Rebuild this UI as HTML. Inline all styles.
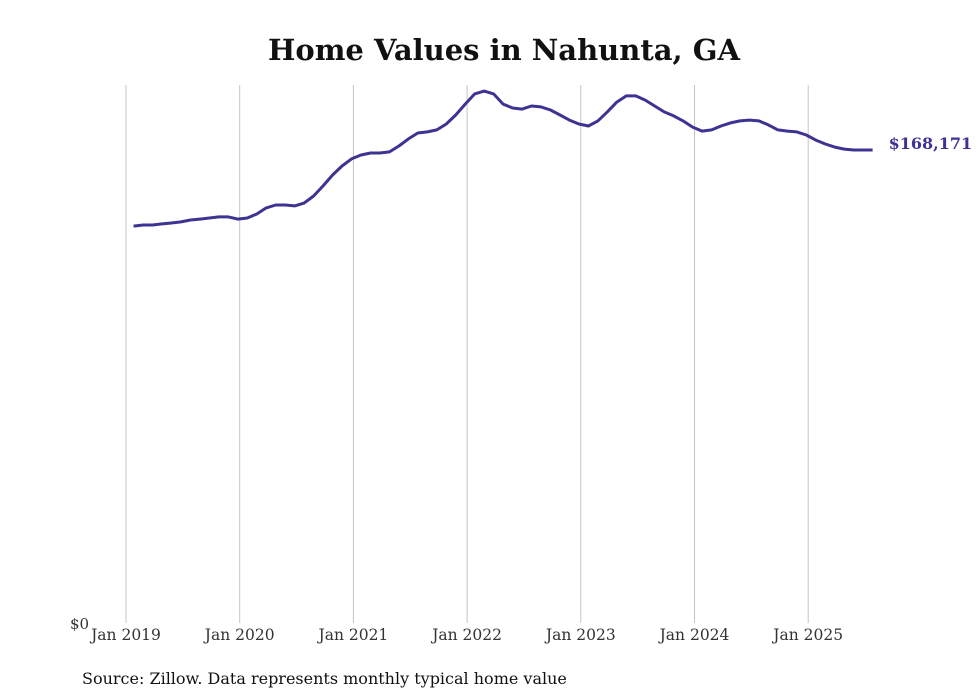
<!DOCTYPE html>
<html><head><meta charset="utf-8"><style>
html,body{margin:0;padding:0;background:#fff;}
svg{display:block;font-family:"DejaVu Serif","Liberation Serif",serif;}
</style></head><body>
<svg id="chart" width="980" height="699" viewBox="0 0 980 699">
<text x="504" y="60" text-anchor="middle" font-size="29" font-weight="bold" fill="#111">Home Values in Nahunta, GA</text>
<g id="grid"></g>
<g id="xticks"></g>
<text x="70" y="629" font-size="15" fill="#333">$0</text>
<path id="line" fill="none" stroke="#3d3393" stroke-width="3" stroke-linejoin="round"></path>
<text id="endlabel" font-size="16" font-weight="bold" fill="#3d3393"></text>
<text x="82" y="684" font-size="16" fill="#111">Source: Zillow. Data represents monthly typical home value</text>
</svg>
<script>
const tickLabels = ["Jan 2019","Jan 2020","Jan 2021","Jan 2022","Jan 2023","Jan 2024","Jan 2025"];
// monthly typical home value (thousands USD), Jan 2019 .. Jul 2025
const values = [
141.1,141.5,141.5,141.9,142.2,142.6,143.3,143.6,144.0,144.4,144.4,143.6,
144.0,145.4,147.6,148.6,148.6,148.3,149.3,151.8,155.4,159.3,162.5,165.0,
166.4,167.1,167.1,167.5,169.6,172.1,174.2,174.6,175.3,177.4,180.6,184.5,
188.1,189.1,188.1,184.5,183.1,182.7,183.8,183.5,182.4,180.6,178.8,177.4,
176.7,178.5,181.7,185.2,187.4,187.4,185.9,183.8,181.7,180.3,178.5,176.3,
174.9,175.3,176.7,177.8,178.5,178.8,178.5,177.1,175.3,174.9,174.6,173.5,
171.7,170.3,169.2,168.5,168.171,168.171,168.171
];
const lastLabel = "$168,171";
const x0=126, pxPerYear=113.7, y0=623, maxV=168.171, maxY=150;
const xScale = t => x0 + t*pxPerYear;
const yScale = v => y0 - v*(y0-maxY)/maxV;
const NS="http://www.w3.org/2000/svg";
const grid=document.getElementById('grid'), xt=document.getElementById('xticks');
tickLabels.forEach((lab,i)=>{
  const x=xScale(i);
  const l=document.createElementNS(NS,'line');
  l.setAttribute('x1',x);l.setAttribute('x2',x);l.setAttribute('y1',85);l.setAttribute('y2',623);
  l.setAttribute('stroke','#c4c4c4');l.setAttribute('stroke-width','1');
  
  
  grid.appendChild(l);
  const t=document.createElementNS(NS,'text');
  t.setAttribute('x',x);t.setAttribute('y',640);t.setAttribute('text-anchor','middle');
  t.setAttribute('font-size','15.5');t.setAttribute('fill','#333');
  t.textContent=lab;
  
  
  xt.appendChild(t);
});
let d="";
values.forEach((v,i)=>{
  const x=xScale((i+0.8)/12), y=yScale(v);
  d+=(i?"L":"M")+x.toFixed(1)+","+y.toFixed(1);
});
document.getElementById('line').setAttribute('d',d);
const el=document.getElementById('endlabel');
const li=values.length-1;
el.setAttribute('x',xScale((li+0.8)/12)+16);
el.setAttribute('y',yScale(values[li])-1);
el.textContent=lastLabel;
</script>
</body></html>
